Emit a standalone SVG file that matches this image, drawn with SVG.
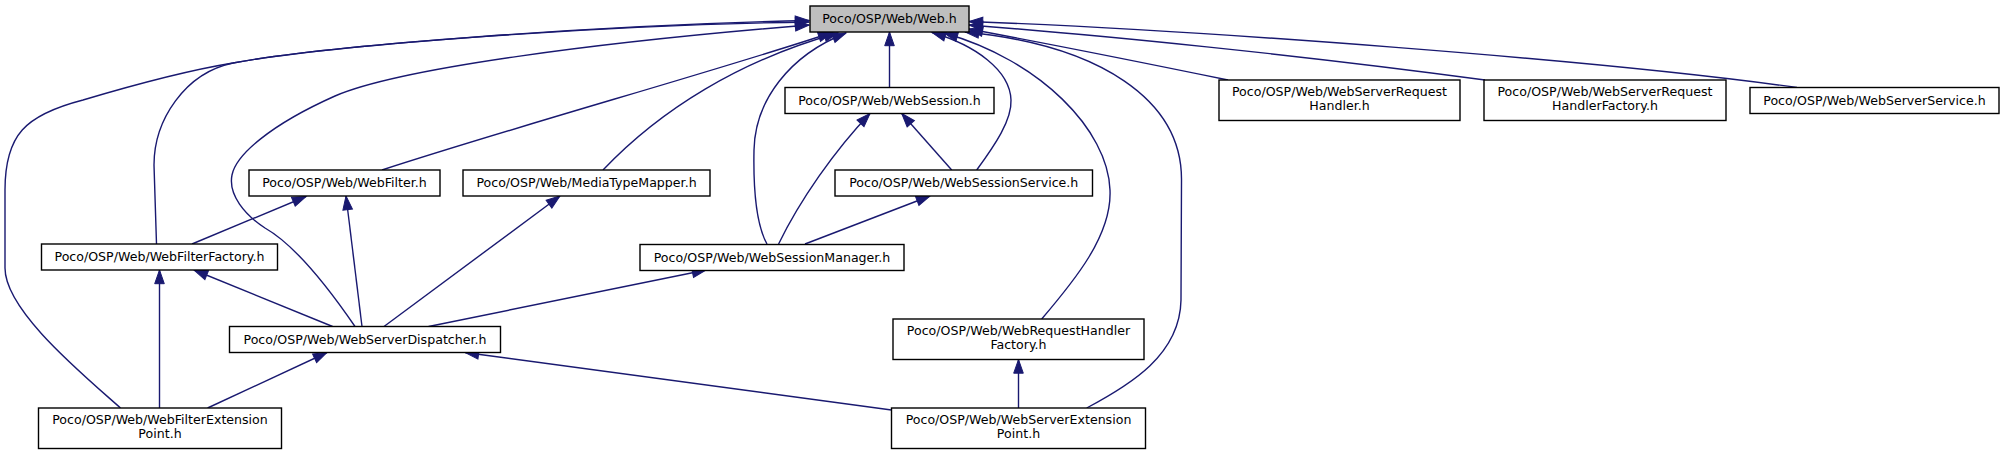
<svg xmlns="http://www.w3.org/2000/svg" width="2005" height="455" viewBox="0 0 2005 455">
<style>
.n rect{fill:#ffffff;stroke:#000000;stroke-width:1.4}
.n.focus rect{fill:#bfbfbf}
.n text{font-family:"DejaVu Sans","Liberation Sans",sans-serif;font-size:12.6px;fill:#000000;text-anchor:middle}
.e path{fill:none;stroke:#191970;stroke-width:1.4;marker-end:url(#ah)}
</style>
<defs>
<marker id="ah" markerUnits="userSpaceOnUse" markerWidth="16" markerHeight="12" refX="13.7" refY="4.8" orient="auto" overflow="visible">
<path d="M0,0 L13.7,4.8 L0,9.6 z" fill="#191970" stroke="#191970" stroke-width="1"/>
</marker>
</defs>
<rect width="2005" height="455" fill="#ffffff"/>
<g id="edges" class="e">
<path d="M889.5,87.5 L889.5,32"/>
<path d="M120.5,408 C80,372 5,310 5,268 L5,190 C5,135 25,115 83,100 C130,86 190,70 233,63 C330,45 600,25 809,20.5"/>
<path d="M156.5,244 L154,165 C154,120 185,73 233,63 C330,45 600,25 809,22"/>
<path d="M355,326.5 C330,290 295,245 265,228 C245,215 228,195 232,175 C236,155 270,125 335,96 C400,68 600,42 809,25"/>
<path d="M382,170 C520,125 720,70 832,32.5"/>
<path d="M603,170 C660,110 740,60 838,33"/>
<path d="M767,244 C758,228 753,200 754,150 C755,100 790,55 846,33"/>
<path d="M976.7,170 C995,145 1012,120 1011,100 C1010,70 975,45 932,32.5"/>
<path d="M1041.7,319 C1075,280 1112,235 1110,190 C1108,130 1040,60 944,33"/>
<path d="M1086.7,408 C1130,385 1180,355 1181,300 L1181.5,180 C1182,100 1100,45 965,32"/>
<path d="M1228,80 C1150,64 1050,44 969,29"/>
<path d="M1485,80 C1300,55 1100,35 969,25"/>
<path d="M1797,87.5 C1600,60 1200,30 969,21.5"/>
<path d="M951.7,170 L901.7,113.5"/>
<path d="M778.6,244 C800,200 835,150 870,113.5"/>
<path d="M805,244 L930,196"/>
<path d="M192,244 L306,196.5"/>
<path d="M362,326.5 L346,196"/>
<path d="M384,326.5 L560,196"/>
<path d="M428.6,326.5 L706,270"/>
<path d="M332.6,326.5 L194,270"/>
<path d="M159.5,408 L159.5,270"/>
<path d="M207.6,408 L327,352.5"/>
<path d="M891.5,410 L465,352.5"/>
<path d="M1018.5,408 L1018.5,359.5"/>
</g>
<g id="node_web" class="n focus"><rect x="810" y="6" width="159" height="26"/><text x="889.5" y="23.3">Poco/OSP/Web/Web.h</text></g>
<g id="node_websession" class="n"><rect x="785" y="87.5" width="209" height="26"/><text x="889.5" y="104.8">Poco/OSP/Web/WebSession.h</text></g>
<g id="node_webserverrequesthandler" class="n"><rect x="1219" y="80" width="241" height="40.5"/><text x="1339.5" y="96.3">Poco/OSP/Web/WebServerRequest</text><text x="1339.5" y="110.3">Handler.h</text></g>
<g id="node_webserverrequesthandlerfactory" class="n"><rect x="1484" y="80" width="242" height="40.5"/><text x="1605" y="96.3">Poco/OSP/Web/WebServerRequest</text><text x="1605" y="110.3">HandlerFactory.h</text></g>
<g id="node_webserverservice" class="n"><rect x="1750" y="87.5" width="249" height="26"/><text x="1874.5" y="104.8">Poco/OSP/Web/WebServerService.h</text></g>
<g id="node_webfilter" class="n"><rect x="249" y="170" width="191" height="26"/><text x="344.5" y="187.3">Poco/OSP/Web/WebFilter.h</text></g>
<g id="node_mediatypemapper" class="n"><rect x="463" y="170" width="247" height="26"/><text x="586.5" y="187.3">Poco/OSP/Web/MediaTypeMapper.h</text></g>
<g id="node_websessionservice" class="n"><rect x="835" y="170" width="257.5" height="26"/><text x="963.75" y="187.3">Poco/OSP/Web/WebSessionService.h</text></g>
<g id="node_webfilterfactory" class="n"><rect x="41.5" y="244" width="236" height="26"/><text x="159.5" y="261.3">Poco/OSP/Web/WebFilterFactory.h</text></g>
<g id="node_websessionmanager" class="n"><rect x="640" y="244.5" width="264" height="26"/><text x="772" y="261.8">Poco/OSP/Web/WebSessionManager.h</text></g>
<g id="node_webserverdispatcher" class="n"><rect x="229.5" y="326.5" width="271" height="26"/><text x="365" y="343.8">Poco/OSP/Web/WebServerDispatcher.h</text></g>
<g id="node_webrequesthandlerfactory" class="n"><rect x="893" y="319" width="251" height="40.5"/><text x="1018.5" y="335.3">Poco/OSP/Web/WebRequestHandler</text><text x="1018.5" y="349.3">Factory.h</text></g>
<g id="node_webfilterextensionpoint" class="n"><rect x="38.5" y="408" width="243" height="40.5"/><text x="160" y="424.3">Poco/OSP/Web/WebFilterExtension</text><text x="160" y="438.3">Point.h</text></g>
<g id="node_webserverextensionpoint" class="n"><rect x="891.5" y="408" width="254" height="40.5"/><text x="1018.5" y="424.3">Poco/OSP/Web/WebServerExtension</text><text x="1018.5" y="438.3">Point.h</text></g>
</svg>
